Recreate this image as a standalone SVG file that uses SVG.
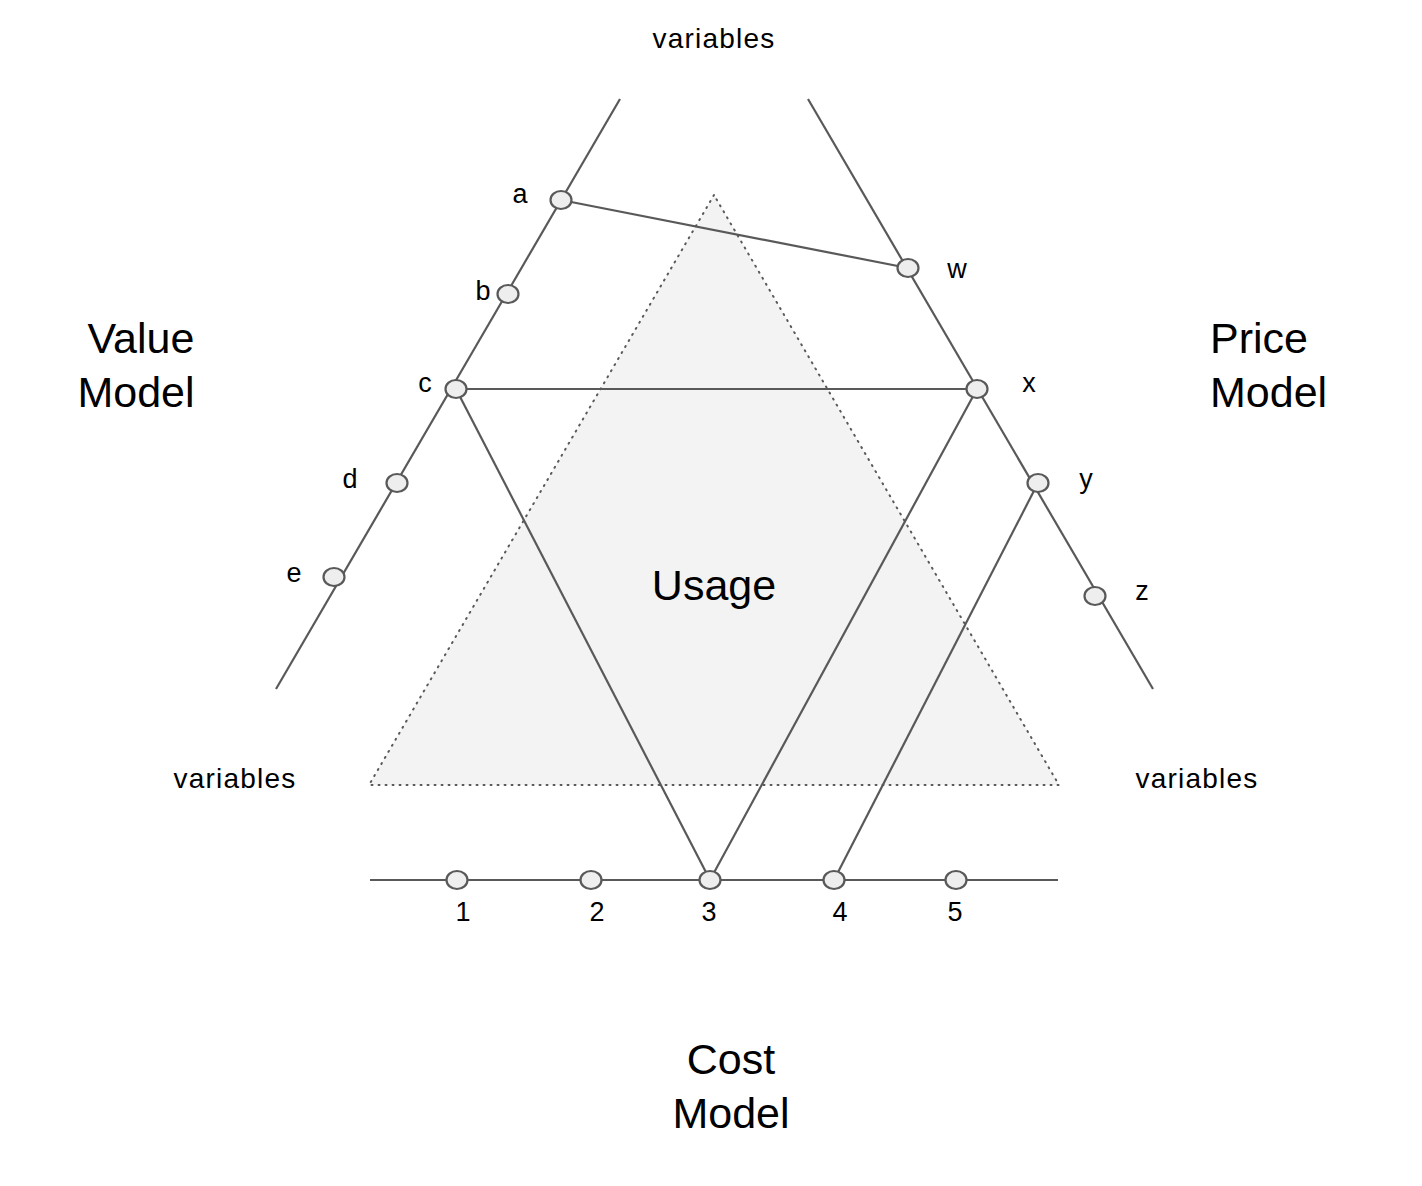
<svg xmlns="http://www.w3.org/2000/svg" width="1422" height="1186" viewBox="0 0 1422 1186">
<style>
  text { font-family: "Liberation Sans", Arial, sans-serif; fill: #000; }
  .axis, .conn { stroke: #595959; stroke-width: 2.2; fill: none; }
  .node ellipse { fill: #eeeeee; stroke: #595959; stroke-width: 2.2; }
  .lbl { font-size: 27px; text-anchor: middle; }
  .var { font-size: 28px; letter-spacing: 1.2px; text-anchor: middle; }
  .big { font-size: 43px; }
</style>
<rect width="1422" height="1186" fill="#ffffff"/>
<g id="usage">
  <polygon points="714,195 369,785 1059,785" fill="#f3f3f3" stroke="#595959" stroke-width="2" stroke-dasharray="1,6" stroke-linecap="round"/>
  <text class="big" x="714" y="600" text-anchor="middle">Usage</text>
</g>
<g id="axes">
  <line class="axis" x1="620" y1="99" x2="276" y2="689"/>
  <line class="axis" x1="808" y1="99" x2="1153" y2="689"/>
  <line class="axis" x1="370" y1="880" x2="1058" y2="880"/>
</g>
<g id="connectors">
  <line class="conn" x1="561" y1="200" x2="908" y2="268"/>
  <line class="conn" x1="456" y1="389" x2="977" y2="389"/>
  <line class="conn" x1="456" y1="389" x2="710" y2="880"/>
  <line class="conn" x1="977" y1="389" x2="710" y2="880"/>
  <line class="conn" x1="1038" y1="483" x2="834" y2="880"/>
</g>
<g id="node-a" class="node"><ellipse cx="561" cy="200" rx="10.5" ry="9"/><text class="lbl" x="520" y="203">a</text></g>
<g id="node-b" class="node"><ellipse cx="508" cy="294" rx="10.5" ry="9"/><text class="lbl" x="483" y="300">b</text></g>
<g id="node-c" class="node"><ellipse cx="456" cy="389" rx="10.5" ry="9"/><text class="lbl" x="425" y="392">c</text></g>
<g id="node-d" class="node"><ellipse cx="397" cy="483" rx="10.5" ry="9"/><text class="lbl" x="350" y="488">d</text></g>
<g id="node-e" class="node"><ellipse cx="334" cy="577" rx="10.5" ry="9"/><text class="lbl" x="294" y="582">e</text></g>
<g id="node-w" class="node"><ellipse cx="908" cy="268" rx="10.5" ry="9"/><text class="lbl" x="957" y="278">w</text></g>
<g id="node-x" class="node"><ellipse cx="977" cy="389" rx="10.5" ry="9"/><text class="lbl" x="1029" y="392">x</text></g>
<g id="node-y" class="node"><ellipse cx="1038" cy="483" rx="10.5" ry="9"/><text class="lbl" x="1086" y="488">y</text></g>
<g id="node-z" class="node"><ellipse cx="1095" cy="596" rx="10.5" ry="9"/><text class="lbl" x="1142" y="600">z</text></g>
<g id="node-1" class="node"><ellipse cx="457" cy="880" rx="10.5" ry="9"/><text class="lbl" x="463" y="921">1</text></g>
<g id="node-2" class="node"><ellipse cx="591" cy="880" rx="10.5" ry="9"/><text class="lbl" x="597" y="921">2</text></g>
<g id="node-3" class="node"><ellipse cx="710" cy="880" rx="10.5" ry="9"/><text class="lbl" x="709" y="921">3</text></g>
<g id="node-4" class="node"><ellipse cx="834" cy="880" rx="10.5" ry="9"/><text class="lbl" x="840" y="921">4</text></g>
<g id="node-5" class="node"><ellipse cx="956" cy="880" rx="10.5" ry="9"/><text class="lbl" x="955" y="921">5</text></g>
<g id="labels">
  <text class="var" x="714" y="48">variables</text>
  <text class="var" x="235" y="788">variables</text>
  <text class="var" x="1197" y="788">variables</text>
  <text class="big" x="141" y="353" text-anchor="middle">Value</text>
  <text class="big" x="136" y="407" text-anchor="middle">Model</text>
  <text class="big" x="1210" y="353">Price</text>
  <text class="big" x="1210" y="407">Model</text>
  <text class="big" x="731" y="1074" text-anchor="middle">Cost</text>
  <text class="big" x="731" y="1128" text-anchor="middle">Model</text>
</g>
</svg>
